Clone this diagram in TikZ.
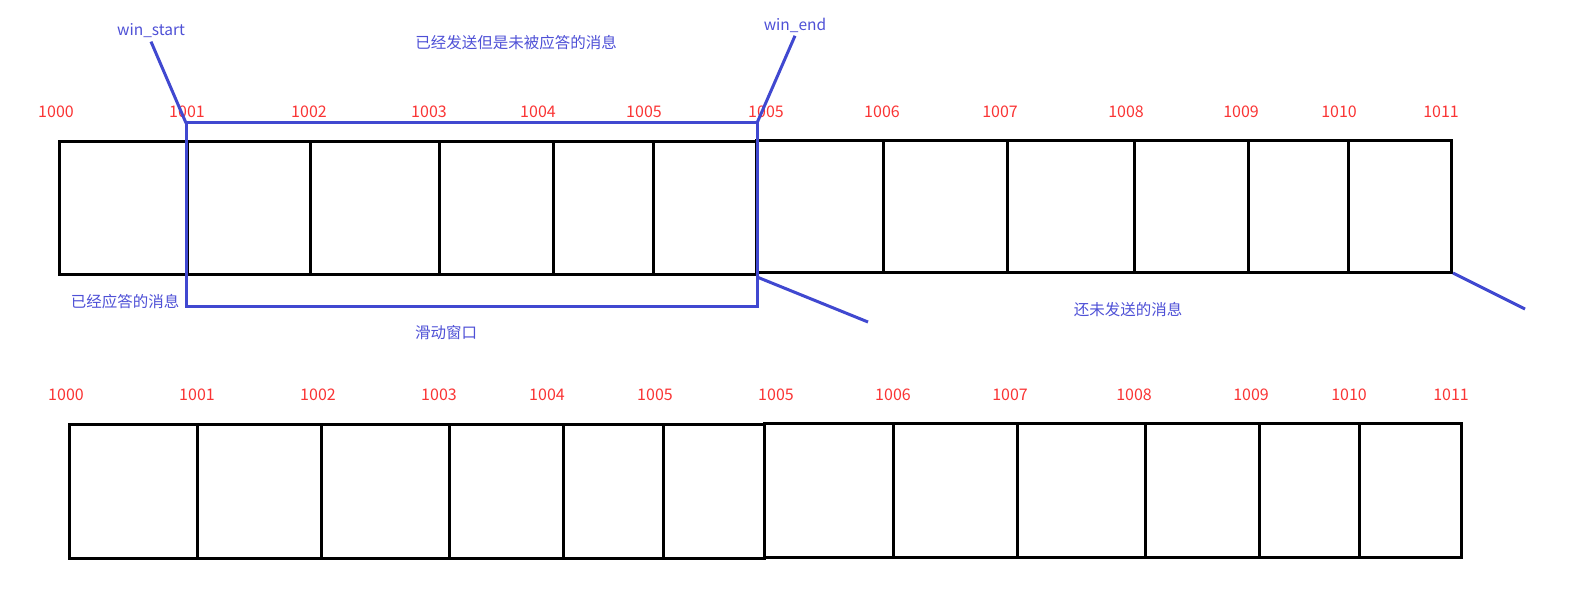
\documentclass[tikz,border=0pt]{standalone}
\usepackage{fontspec}
\newfontfamily\cjk{Noto Sans CJK SC}
\usepackage{tikz}
\usetikzlibrary{positioning,calc}
\definecolor{numred}{RGB}{250,52,52}
\definecolor{tagblue}{RGB}{78,80,214}
\definecolor{winblue}{RGB}{64,72,208}

\begin{document}
\begin{tikzpicture}[x=1pt,y=-1pt,
		cell/.style={line width=3pt,black,line join=miter},
		win/.style={line width=3pt,winblue},
		num/.style={text=numred,font=\cjk\fontsize{16}{18}\selectfont},
		tag/.style={text=tagblue,font=\cjk\fontsize{15.5}{18}\selectfont}]
		\useasboundingbox (0,0) rectangle (1591,612);

		% top row
		\draw[cell] (59,142) -- (756,142) -- (756,275) -- (59,275) -- cycle;
		\draw[cell] (756,141) -- (1451,141) -- (1451,273) -- (756,273) -- cycle;
		\foreach \x in {187,310,439,553,653,883,1007,1134,1248,1348}
			\draw[cell] (\x,141) -- (\x,274);
		\foreach \x/\t [count=\i] in {56/1000,187/1001,309/1002,429/1003,538/1004,644/1005,766/1005,882/1006,1000/1007,1126/1008,1241/1009,1339/1010,1441/1011}
			\node[num] (ta\i) at (\x,112) {\t};

		% bottom row
		\draw[cell] (69,424) -- (764,424) -- (764,558) -- (69,558) -- cycle;
		\draw[cell] (764,423) -- (1461,423) -- (1461,557) -- (764,557) -- cycle;
		\foreach \x in {197,321,449,563,663,893,1017,1145,1259,1359}
			\draw[cell] (\x,423) -- (\x,557);
		\foreach \x/\t [count=\i] in {66/1000,197/1001,318/1002,439/1003,547/1004,655/1005,776/1005,893/1006,1010/1007,1134/1008,1251/1009,1349/1010,1451/1011}
			\node[num] (ba\i) at (\x,395) {\t};

		% sliding window
		\coordinate (wintl) at (186,123);
		\coordinate (wintr) at (757,123);
		\coordinate (winbr) at (757,277);
		\coordinate (lastbr) at (1453,273);
		\draw[win] (wintl) -- (wintr) -- (757,307) -- (186,307) -- cycle;

		\node[tag] (wstart) at (151,31) {win\_start};
		\node[tag] (wend) at (795,25) {win\_end};
		\draw[win] (wstart.south) -- (wintl);
		\draw[win] (wend.south) -- (wintr);
		\draw[win] (winbr) -- (868,322);
		\draw[win] (lastbr) -- (1525,309);

		\node[tag] (sent) at (516,43) {已经发送但是未被应答的消息};
		\node[tag] (acked) at (125,302) {已经应答的消息};
		\node[tag] (window) at (446,333) {滑动窗口};
		\node[tag] (unsent) at (1128,310) {还未发送的消息};
\end{tikzpicture}
\end{document}
